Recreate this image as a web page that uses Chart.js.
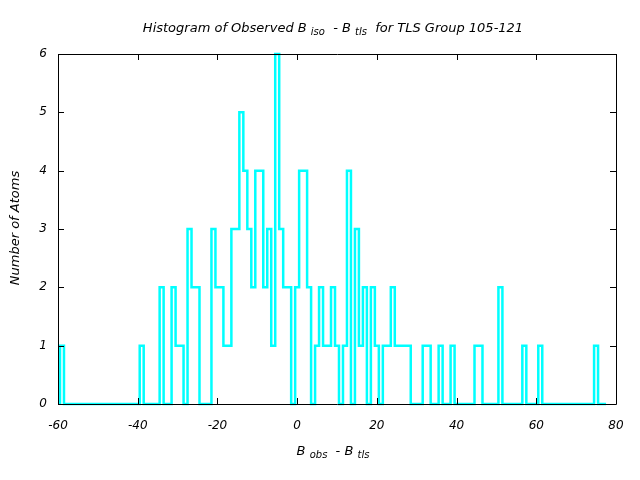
<!DOCTYPE html>
<html>
<head>
<meta charset="utf-8">
<script src="https://cdn.jsdelivr.net/npm/chart.js@4.4.1/dist/chart.umd.min.js"></script>
<style>
html,body{margin:0;padding:0;background:#ffffff;}
#wrap{width:640px;height:480px;}
</style>
</head>
<body>
<div id="wrap"><canvas id="c" width="640" height="480"></canvas></div>
<script>
// Histogram bins (centre of each 1-unit bin) and counts
const binCenters = [
  -59,-58,-57,-56,-55,-54,-53,-52,-51,-50,-49,-48,-47,-46,-45,-44,-43,-42,-41,-40,
  -39,-38,-37,-36,-35,-34,-33,-32,-31,-30,-29,-28,-27,-26,-25,-24,-23,-22,-21,-20,
  -19,-18,-17,-16,-15,-14,-13,-12,-11,-10,-9,-8,-7,-6,-5,-4,-3,-2,-1,0,
  1,2,3,4,5,6,7,8,9,10,11,12,13,14,15,16,17,18,19,20,
  21,22,23,24,25,26,27,28,29,30,31,32,33,34,35,36,37,38,39,40,
  41,42,43,44,45,46,47,48,49,50,51,52,53,54,55,56,57,58,59,60,
  61,62,63,64,65,66,67,68,69,70,71,72,73,74,75,76,77
];
const atomCounts = [
  1,0,0,0,0,0,0,0,0,0,0,0,0,0,0,0,0,0,0,0,
  1,0,0,0,0,2,0,0,2,1,1,0,3,2,2,0,0,0,3,2,
  2,1,1,3,3,5,4,3,2,4,4,2,3,1,6,3,2,2,0,2,
  4,4,2,0,1,2,1,1,2,1,0,1,4,0,3,1,2,0,2,1,
  0,1,1,2,1,1,1,1,0,0,0,1,1,0,0,1,0,0,1,0,
  0,0,0,0,1,1,0,0,0,0,2,0,0,0,0,0,1,0,0,0,
  1,0,0,0,0,0,0,0,0,0,0,0,0,0,1,0,0
];
const binWidth = 1;
const xTickValues = [-60,-40,-20,0,20,40,60,80];
const yTickValues = [0,1,2,3,4,5,6];

const titleParts = [
  {t:'Histogram of Observed B ', sub:false},
  {t:'iso', sub:true},
  {t:'  - B ', sub:false},
  {t:'tls', sub:true},
  {t:'  for TLS Group 105-121', sub:false}
];
const xTitleParts = [
  {t:'B ', sub:false},
  {t:'obs', sub:true},
  {t:'  - B ', sub:false},
  {t:'tls', sub:true}
];
const yTitle = 'Number of Atoms';

// build stepped outline points (left edge of each bin)
const stepPoints = [{x: binCenters[0] - binWidth/2, y: 0}];
binCenters.forEach((c, i) => stepPoints.push({x: c - binWidth/2, y: atomCounts[i]}));
stepPoints.push({x: binCenters[binCenters.length-1] + binWidth/2, y: 0});

const FAM = "'DejaVu Sans', 'Liberation Sans', sans-serif";
const MAIN = "italic 13px " + FAM;
const SUB = "italic 10px " + FAM;

function drawRich(ctx, parts, cx, baseY) {
  let total = 0;
  parts.forEach(p => { ctx.font = p.sub ? SUB : MAIN; p.w = ctx.measureText(p.t).width; total += p.w; });
  let x = cx - total / 2;
  ctx.textAlign = 'left';
  ctx.textBaseline = 'alphabetic';
  ctx.fillStyle = '#000';
  parts.forEach(p => {
    ctx.font = p.sub ? SUB : MAIN;
    ctx.fillText(p.t, x, baseY + (p.sub ? 3 : 0));
    x += p.w;
  });
}

const framePlugin = {
  id: 'frame',
  afterDatasetsDraw(chart) {
    const ctx = chart.ctx;
    const a = chart.chartArea;
    const xs = chart.scales.x, ys = chart.scales.y;
    ctx.save();
    ctx.strokeStyle = '#000';
    ctx.lineWidth = 1;
    ctx.beginPath();
    ctx.rect(Math.round(a.left) + 0.5, Math.round(a.top) + 0.5, Math.round(a.right - a.left), Math.round(a.bottom - a.top));
    const tl = 6;
    yTickValues.forEach(v => {
      const y = Math.round(ys.getPixelForValue(v)) + 0.5;
      ctx.moveTo(a.left, y); ctx.lineTo(a.left + tl, y);
      ctx.moveTo(a.right, y); ctx.lineTo(a.right - tl, y);
    });
    xTickValues.forEach(v => {
      const x = Math.round(xs.getPixelForValue(v)) + 0.5;
      ctx.moveTo(x, a.bottom); ctx.lineTo(x, a.bottom - tl);
      ctx.moveTo(x, a.top); ctx.lineTo(x, a.top + tl);
    });
    ctx.stroke();
    ctx.restore();
  },
  afterDraw(chart) {
    const ctx = chart.ctx;
    ctx.save();
    drawRich(ctx, titleParts, 333, 32);
    drawRich(ctx, xTitleParts, 333, 455);
    ctx.translate(19, 228);
    ctx.rotate(-Math.PI / 2);
    ctx.font = MAIN;
    ctx.textAlign = 'center';
    ctx.textBaseline = 'alphabetic';
    ctx.fillStyle = '#000';
    ctx.fillText(yTitle, 0, 0);
    ctx.restore();
  }
};

new Chart(document.getElementById('c'), {
  type: 'line',
  data: {
    datasets: [{
      data: stepPoints,
      stepped: 'before',
      borderColor: '#00ffff',
      borderWidth: 2.5,
      pointRadius: 0,
      fill: false,
      clip: false
    }]
  },
  options: {
    responsive: false,
    animation: false,
    devicePixelRatio: 1,
    layout: { padding: { top: 54, right: 24, bottom: 0, left: 0 } },
    plugins: { legend: { display: false }, tooltip: { enabled: false }, title: { display: false } },
    scales: {
      x: {
        type: 'linear',
        min: -60, max: 80,
        afterBuildTicks: s => { s.ticks = xTickValues.map(v => ({value: v})); },
        afterFit: s => { s.height = 76; },
        grid: { display: false, drawTicks: false },
        border: { display: false },
        ticks: { color: '#000', padding: 15, maxRotation: 0, font: { family: FAM, style: 'italic', size: 12 } }
      },
      y: {
        type: 'linear',
        min: 0, max: 6,
        afterBuildTicks: s => { s.ticks = yTickValues.map(v => ({value: v})); },
        afterFit: s => { s.width = 58; },
        grid: { display: false, drawTicks: false },
        border: { display: false },
        ticks: { color: '#000', padding: 11, font: { family: FAM, style: 'italic', size: 12 } }
      }
    }
  },
  plugins: [framePlugin]
});
</script>
</body>
</html>
